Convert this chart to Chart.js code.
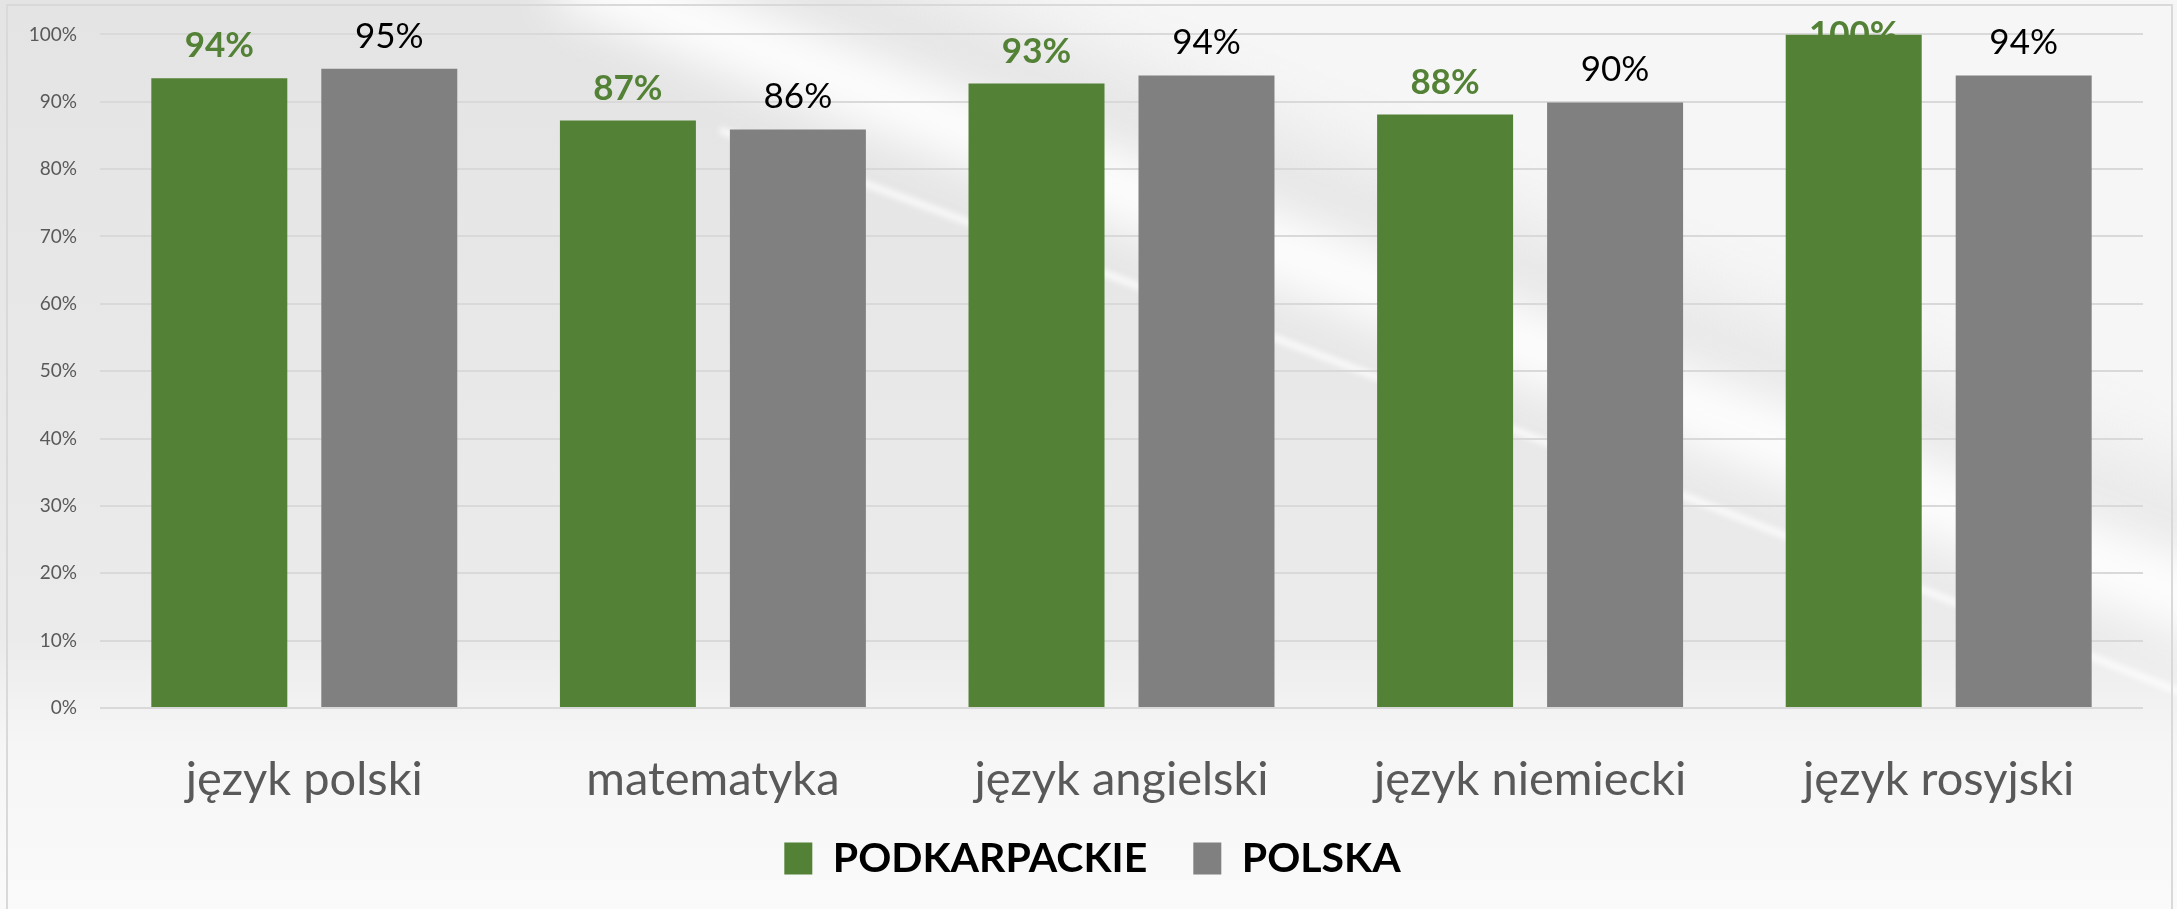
<!DOCTYPE html>
<html>
<head>
<meta charset="utf-8">
<script src="https://cdn.jsdelivr.net/npm/chart.js@4.4.0/dist/chart.umd.min.js"></script>
<style>
html, body { margin: 0; padding: 0; background: #ffffff; }
#wrap { width: 2177px; height: 909px; position: relative; }
</style>
</head>
<body>
<div id="wrap"><canvas id="wynikiChart"></canvas></div>
<script>

// dane
var przedmioty   = ['język polski', 'matematyka', 'język angielski', 'język niemiecki', 'język rosyjski'];
var podkarpackie = [93.5, 87.2, 92.7, 88.1, 100];
var polska       = [94.9, 85.9, 93.9, 89.9, 93.9];
var yTicks       = [0, 10, 20, 30, 40, 50, 60, 70, 80, 90, 100];

var FONT = "Lato, 'Open Sans', sans-serif";

// tlo z jasnym ukosnym pasem
var tloPlugin = {
	id: 'tlo',
	beforeDraw: function(chart){
		var ctx = chart.ctx;
		var w = chart.width, h = chart.height;
		ctx.save();
		var g = ctx.createLinearGradient(0, 0, 0, h);
		g.addColorStop(0, '#e4e4e4');
		g.addColorStop(0.7, '#ebebeb');
		g.addColorStop(0.82, '#f6f6f6');
		g.addColorStop(1, '#fafafa');
		ctx.fillStyle = g;
		ctx.fillRect(0, 0, w, h);

		// jasniejszy obszar nad ukosem
		ctx.filter = 'blur(40px)';
		ctx.fillStyle = '#f6f6f6';
		ctx.beginPath();
		ctx.moveTo(700, -100);
		ctx.lineTo(2300, -100);
		ctx.lineTo(2300, 520);
		ctx.quadraticCurveTo(1500, 220, 700, -100);
		ctx.fill();

		ctx.filter = 'blur(24px)';
		ctx.strokeStyle = 'rgba(255,255,255,0.95)';
		ctx.lineWidth = 70;
		ctx.beginPath();
		ctx.moveTo(560, -30);
		ctx.quadraticCurveTo(1300, 260, 2250, 620);
		ctx.stroke();
		ctx.filter = 'blur(3px)';
		ctx.lineWidth = 6;
		ctx.strokeStyle = 'rgba(255,255,255,0.9)';
		ctx.beginPath();
		ctx.moveTo(720, 130);
		ctx.quadraticCurveTo(1400, 380, 2200, 700);
		ctx.stroke();
		ctx.filter = 'none';

		ctx.strokeStyle = '#d9d9d9';
		ctx.lineWidth = 2;
		ctx.strokeRect(7, 5, 2165, 950);
		ctx.restore();
	},
	afterLayout: function(chart){
		// legenda: wieksze odstepy miedzy pozycjami, przesunieta w prawo i w gore
		var L = chart.legend;
		L.left += 21;
		L.right += 21;
		L.top -= 57;
	}
};

// etykiety wartosci rysowane pod slupkami (jak w excelu, 100% czesciowo zasloniete)
var etykietyPlugin = {
	id: 'etykiety',
	beforeDatasetsDraw: function(chart){
		var ctx = chart.ctx;
		ctx.save();
		ctx.textAlign = 'center';
		ctx.textBaseline = 'alphabetic';
		chart.data.datasets.forEach(function(ds, i){
			var meta = chart.getDatasetMeta(i);
			meta.data.forEach(function(bar, j){
				var txt = Math.round(ds.data[j]) + '%';
				var y = Math.max(bar.y - 21, 46);
				ctx.fillStyle = i === 0 ? '#538135' : '#000000';
				ctx.font = (i === 0 ? 'bold ' : '') + '35px ' + FONT;
				ctx.fillText(txt, bar.x, y);
			});
		});
		ctx.restore();
	}
};

var ctx = document.getElementById('wynikiChart').getContext('2d');

new Chart(ctx, {
	type: 'bar',
	data: {
		labels: przedmioty,
		datasets: [
			{
				label: 'PODKARPACKIE',
				data: podkarpackie,
				backgroundColor: '#538135',
				borderWidth: 0,
				categoryPercentage: 0.832,
				barPercentage: 0.8
			},
			{
				label: 'POLSKA',
				data: polska,
				backgroundColor: '#808080',
				borderWidth: 0,
				categoryPercentage: 0.832,
				barPercentage: 0.8
			}
		]
	},
	options: {
		responsive: true,
		maintainAspectRatio: false,
		animation: false,
		layout: { padding: { top: 34, right: 34, bottom: 0, left: 0 } },
		plugins: {
			legend: {
				position: 'bottom',
				maxHeight: 60,
				labels: {
					color: '#000000',
					font: { family: FONT, size: 41, weight: 'bold' },
					boxWidth: 28,
					boxHeight: 32,
					padding: 46
				}
			},
			tooltip: { enabled: false }
		},
		scales: {
			x: {
				grid: { display: false },
				border: { display: false },
				ticks: {
					color: '#595959',
					font: { family: FONT, size: 47 },
					padding: 36
				},
				afterFit: function(scale){ scale.height = 141; }
			},
			y: {
				min: 0,
				max: 100,
				afterBuildTicks: function(scale){
					scale.ticks = yTicks.map(function(v){ return { value: v }; });
				},
				grid: { color: '#d9d9d9', lineWidth: 2, drawTicks: false },
				border: { display: false },
				ticks: {
					color: '#595959',
					font: { family: FONT, size: 19 },
					padding: 23,
					callback: function(v){ return v + '%'; }
				},
				afterFit: function(scale){ scale.width = 100; }
			}
		}
	},
	plugins: [tloPlugin, etykietyPlugin]
});
</script>
</body>
</html>
